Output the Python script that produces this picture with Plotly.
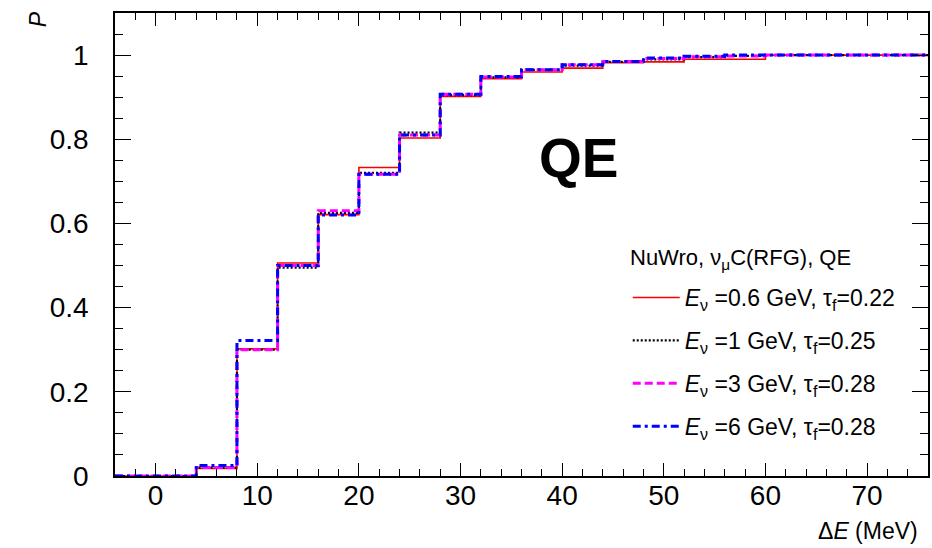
import plotly.graph_objects as go

# Bin edges of the Delta E histogram (MeV), 4 MeV bins
bin_edges = [-4, 0, 4, 8, 12, 16, 20, 24, 28, 32, 36, 40, 44, 48, 52, 56, 60, 64, 68, 72, 76]

# Cumulative probability P in each bin
p_06gev = [0.0, 0.0, 0.018, 0.302, 0.506, 0.621, 0.733, 0.803, 0.902, 0.944,
           0.960, 0.969, 0.982, 0.984, 0.990, 0.990, 1.0, 1.0, 1.0, 1.0]
p_1gev = [0.0, 0.0, 0.020, 0.300, 0.495, 0.625, 0.720, 0.816, 0.905, 0.947,
          0.965, 0.975, 0.984, 0.990, 0.995, 0.998, 1.0, 1.0, 1.0, 1.0]
p_3gev = [0.0, 0.0, 0.020, 0.300, 0.500, 0.630, 0.717, 0.810, 0.907, 0.948,
          0.965, 0.977, 0.985, 0.992, 0.996, 0.998, 1.0, 1.0, 1.0, 1.0]
p_6gev = [0.0, 0.0, 0.025, 0.322, 0.500, 0.620, 0.717, 0.810, 0.907, 0.949,
          0.965, 0.977, 0.985, 0.993, 0.997, 1.0, 1.0, 1.0, 1.0, 1.0]

series_names = [
    "<i>E</i><sub>ν</sub> =0.6 GeV, τ<sub>f</sub>=0.22",
    "<i>E</i><sub>ν</sub> =1 GeV, τ<sub>f</sub>=0.25",
    "<i>E</i><sub>ν</sub> =3 GeV, τ<sub>f</sub>=0.28",
    "<i>E</i><sub>ν</sub> =6 GeV, τ<sub>f</sub>=0.28",
]
series_values = [p_06gev, p_1gev, p_3gev, p_6gev]
series_lines = [
    dict(color="#ff0000", width=1.6, dash="solid"),
    dict(color="#000000", width=2.2, dash="2px,2px"),
    dict(color="#ff00ff", width=3, dash="8px,4px"),
    dict(color="#0000ff", width=3, dash="8px,4px,3px,4px"),
]

FONT = "Liberation Sans, Arial, Helvetica, sans-serif"

fig = go.Figure()
for i, (name, vals, ln) in enumerate(zip(series_names, series_values, series_lines)):
    fig.add_trace(go.Scatter(
        x=bin_edges,
        y=vals + [vals[-1]],
        mode="lines",
        line=dict(shape="hv", **ln),
        name=name,
        legendgroup=f"g{i}",
    ))

axis_common = dict(
    showline=True, linecolor="black", linewidth=1.5, mirror="allticks",
    ticks="inside", tickcolor="black", tickwidth=1.3,
    showgrid=False, zeroline=False,
    tickfont=dict(family=FONT, size=28, color="black"),
)

fig.update_xaxes(
    range=[-4, 76], tick0=0, dtick=10, ticklen=13,
    minor=dict(dtick=2, ticklen=7, ticks="inside", tickcolor="black", tickwidth=1.3),
    ticklabelstandoff=-6,
    **axis_common,
)
fig.update_yaxes(
    range=[0, 1.1], tick0=0, dtick=0.2, ticklen=16,
    minor=dict(dtick=0.05, ticklen=8, ticks="inside", tickcolor="black", tickwidth=1.3),
    ticklabelstandoff=19,
    **axis_common,
)

fig.add_annotation(
    text="<b>QE</b>", xref="paper", yref="paper", x=(580 - 115) / 815, y=(476 - 158) / 463,
    showarrow=False, font=dict(family=FONT, size=55, color="black"),
    xanchor="center", yanchor="middle",
)
fig.add_annotation(
    text="<i>P</i>", xref="paper", yref="paper", x=(38 - 115) / 815, y=(476 - 19) / 463,
    showarrow=False, textangle=-90, font=dict(family=FONT, size=23, color="black"),
    xanchor="center", yanchor="middle",
)
fig.add_annotation(
    text="Δ<i>E</i> (MeV)", xref="paper", yref="paper", x=(922 - 115) / 815, y=(476 - 531) / 463,
    showarrow=False, font=dict(family=FONT, size=23, color="black"),
    xanchor="right", yanchor="middle",
)
# Legend header
fig.add_annotation(
    text="NuWro, ν<sub>μ</sub>C(RFG), QE", xref="paper", yref="paper",
    x=(629 - 115) / 815, y=(476 - 259) / 463,
    showarrow=False, font=dict(family=FONT, size=22, color="black"),
    xanchor="left", yanchor="middle",
)

fig.update_layout(
    width=932, height=548,
    margin=dict(l=115, r=2, t=13, b=72),
    paper_bgcolor="white", plot_bgcolor="white",
    showlegend=True,
    legend=dict(
        x=(629 - 115) / 815, y=(476 - 276) / 463, xanchor="left", yanchor="top",
        bgcolor="rgba(0,0,0,0)", borderwidth=0,
        font=dict(family=FONT, size=23, color="black"),
        tracegroupgap=10, itemwidth=47,
    ),
)

fig.write_html("out.html")
